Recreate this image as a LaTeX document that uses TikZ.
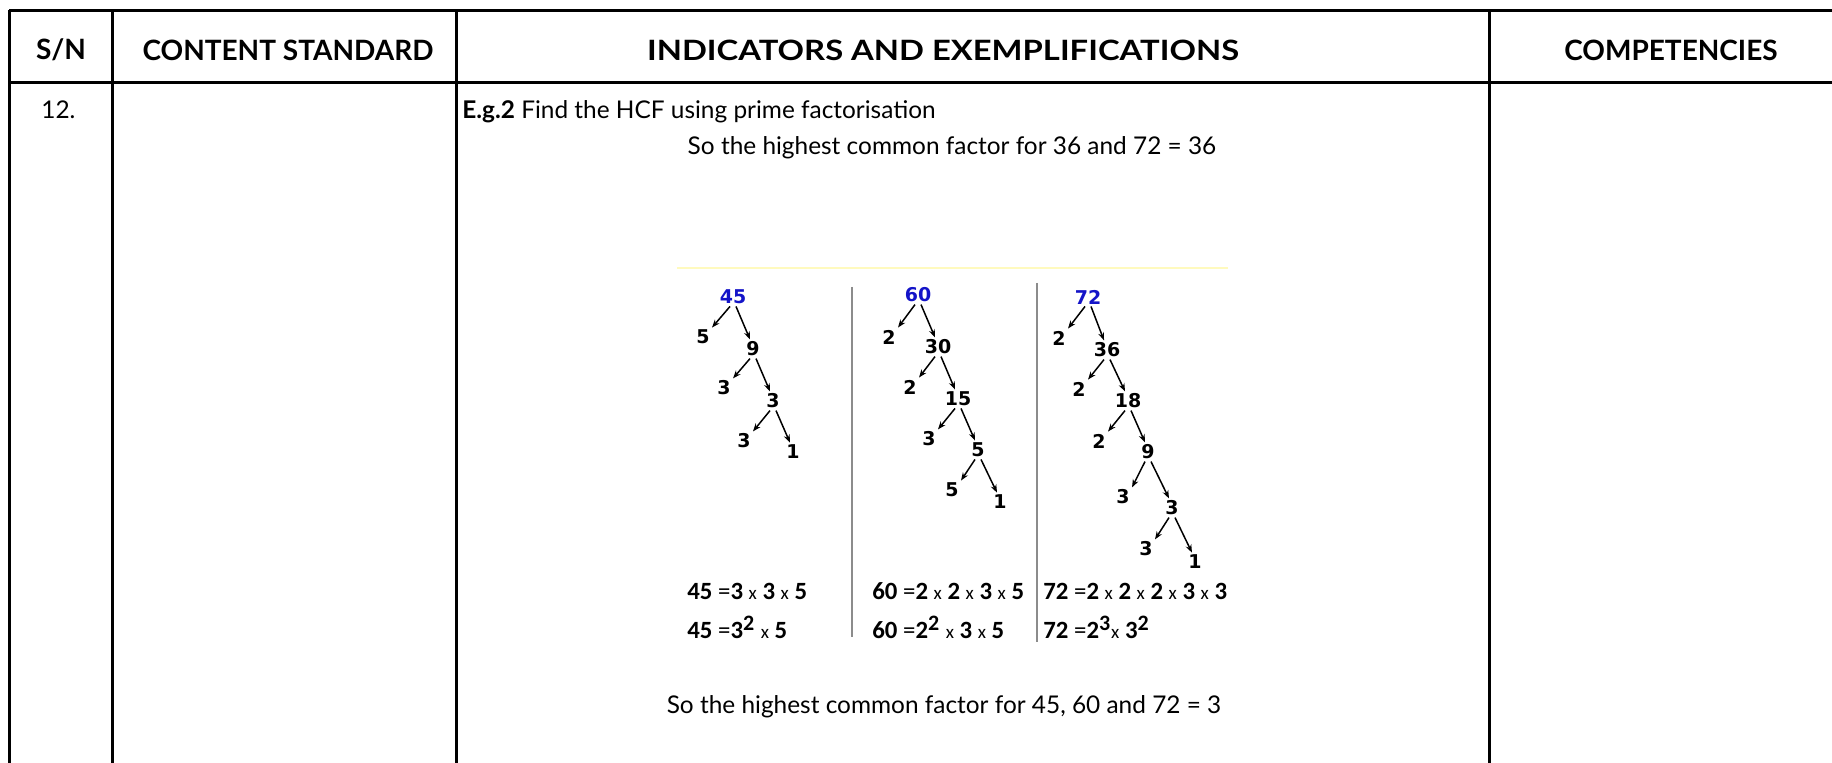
\documentclass[tikz,border=0pt]{standalone}
\usepackage{fontspec}
\setmainfont{Lato}
\newfontfamily\treefont{DejaVu Sans}
\newfontfamily\eqfont{Carlito}
\usetikzlibrary{arrows.meta}
\definecolor{rootblue}{RGB}{20,20,200}
\definecolor{paleyellow}{RGB}{255,250,190}
\begin{document}
\begin{tikzpicture}[x=0.5pt,y=-0.5pt,
  grid/.style={line width=1.5pt,black},
  hdr/.style={font=\fontsize{14}{16}\selectfont\bfseries, inner sep=0pt},
  body/.style={font=\fontsize{12.2}{15}\selectfont, inner sep=0pt, anchor=base west},
  bodyc/.style={font=\fontsize{12.2}{15}\selectfont, inner sep=0pt, anchor=base},
  tn/.style={font=\treefont\fontsize{9.5}{11}\selectfont\bfseries, inner sep=1pt},
  root/.style={tn, text=rootblue},
  arr/.style={-{Stealth[length=4pt,width=3pt]}, line width=0.75pt},
  eq/.style={font=\eqfont\fontsize{12.4}{14}\selectfont, inner sep=0pt, anchor=base west},
  sepline/.style={line width=0.75pt, black!45},
]
\useasboundingbox (0,0) rectangle (1832,763);
% table grid
\draw[grid] (9,11) -- (1832,11);
\draw[grid] (9,83) -- (1832,83);
\draw[grid] (9,10) -- (9,763);
\draw[grid] (112,10) -- (112,763);
\draw[grid] (456,10) -- (456,763);
\draw[grid] (1489,10) -- (1489,763);
% header
\node[hdr] (h1) at (61,50) {S/N};
\node[hdr] (h2) at (288,50) {CONTENT STANDARD};
\node[hdr] (h3) at (943,50) {\scalebox{1.17}[1]{INDICATORS AND EXEMPLIFICATIONS}};
\node[hdr] (h4) at (1671,50) {COMPETENCIES};
% body text
\node[body] (sn) at (41,119) {12.};
\node[body] (eg) at (462,119) {\textbf{E.g.2} Find the HCF using prime factorisation};
\node[bodyc] (s1) at (952,155) {So the highest common factor for 36 and 72 = 36};
% image
\draw[paleyellow, line width=0.6pt] (677,268) -- (1228,268);
\draw[sepline] (852,287) -- (852,637);
\draw[sepline] (1037,283) -- (1037,642);
% tree 45
\node[root] (a1) at (733,297) {45};
\node[tn] (a2) at (703,337) {5};
\node[tn] (a3) at (753,349) {9};
\node[tn] (a4) at (724,388) {3};
\node[tn] (a5) at (773,401) {3};
\node[tn] (a6) at (744,441) {3};
\node[tn] (a7) at (793,452) {1};
% tree 60
\node[root] (b1) at (918,295) {60};
\node[tn] (b2) at (889,337) {2};
\node[tn] (b3) at (938,347) {30};
\node[tn] (b4) at (910,387) {2};
\node[tn] (b5) at (958,399) {15};
\node[tn] (b6) at (929,439) {3};
\node[tn] (b7) at (978,450) {5};
\node[tn] (b8) at (952,490) {5};
\node[tn] (b9) at (1000,502) {1};
% tree 72
\node[root] (c1) at (1088,297) {72};
\node[tn] (c2) at (1059,338) {2};
\node[tn] (c3) at (1107,350) {36};
\node[tn] (c4) at (1079,389) {2};
\node[tn] (c5) at (1128,401) {18};
\node[tn] (c6) at (1099,441) {2};
\node[tn] (c7) at (1148,452) {9};
\node[tn] (c8) at (1123,497) {3};
\node[tn] (c9) at (1172,508) {3};
\node[tn] (c10) at (1146,549) {3};
\node[tn] (c11) at (1195,562) {1};
% arrows
\foreach \p/\l/\r in {a1/a2/a3, a3/a4/a5, a5/a6/a7,
                      b1/b2/b3, b3/b4/b5, b5/b6/b7, b7/b8/b9,
                      c1/c2/c3, c3/c4/c5, c5/c6/c7, c7/c8/c9, c9/c10/c11}{
  \draw[arr] ([xshift=-1.5pt]\p.south) -- (\l.north east);
  \draw[arr] ([xshift=1.5pt]\p.south) -- ([xshift=-1.5pt]\r.north);
}
% equations
\newcommand{\tx}{{\fontsize{9.5}{10}\selectfont x}}
\newcommand{\sq}[1]{\textsuperscript{\fontsize{11}{11}\selectfont #1}}
\node[eq] (e1) at (687,600) {\textbf{45} =\textbf{3} \tx\ \textbf{3} \tx\ \textbf{5}};
\node[eq] (e2) at (687,639) {\textbf{45} =\textbf{3\sq{2}} \tx\ \textbf{5}};
\node[eq] (e3) at (872,600) {\textbf{60} =\textbf{2} \tx\ \textbf{2} \tx\ \textbf{3} \tx\ \textbf{5}};
\node[eq] (e4) at (872,639) {\textbf{60} =\textbf{2\sq{2}} \tx\ \textbf{3} \tx\ \textbf{5}};
\node[eq] (e5) at (1043,600) {\textbf{72} =\textbf{2} \tx\ \textbf{2} \tx\ \textbf{2} \tx\ \textbf{3} \tx\ \textbf{3}};
\node[eq] (e6) at (1043,639) {\textbf{72} =\textbf{2\sq{3}}\tx\ \textbf{3\sq{2}}};
% conclusion
\node[bodyc] (s2) at (944,714) {So the highest common factor for 45, 60 and 72 = 3};
\end{tikzpicture}
\end{document}
